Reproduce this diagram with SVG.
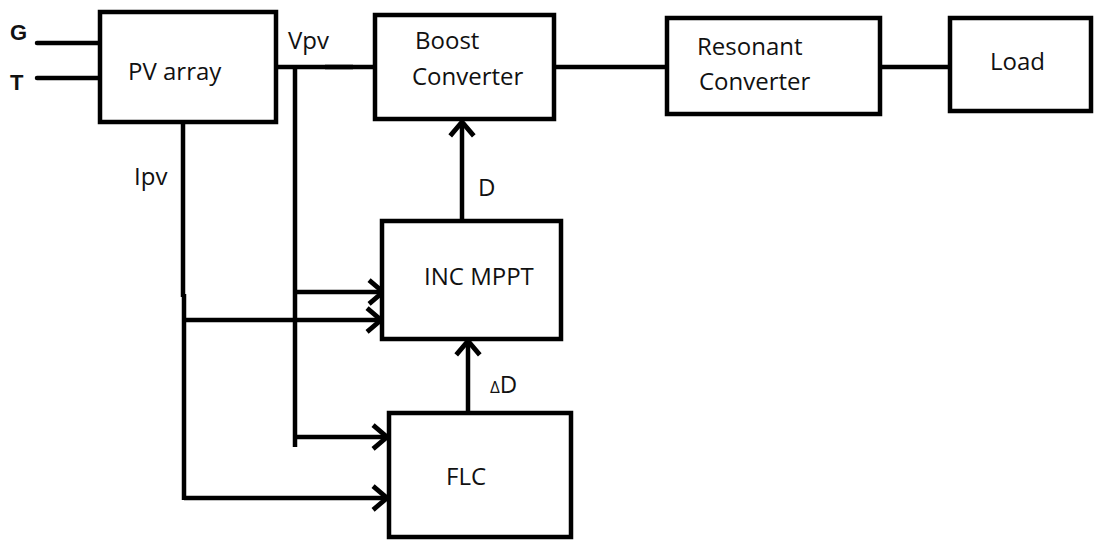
<svg xmlns="http://www.w3.org/2000/svg" width="1119" height="540" viewBox="0 0 1119 540">
<style>
.box{fill:#fff;stroke:#000;stroke-width:4.5}
.w{fill:none;stroke:#000;stroke-width:4.5}
.t{font-family:"Open Sans","Noto Sans",sans-serif;font-size:24px;fill:#111}
.b{font-family:"Liberation Sans",Arial,sans-serif;font-size:22px;font-weight:bold;fill:#111}
</style>
<defs>
<marker id="ah" markerUnits="userSpaceOnUse" markerWidth="30" markerHeight="30" refX="0" refY="0" viewBox="-16 -14 20 28" orient="auto" overflow="visible">
<path d="M-13,-11 L0,0 L-13,11" fill="none" stroke="#000" stroke-width="4.5"/>
</marker>
</defs>
<g id="connectors">
<path class="w" d="M37,43 H98 M37,78 H98" stroke-width="6.5" stroke-linecap="round"/>
<path class="w" d="M277,67 H373"/>
<path class="w" d="M325,67 H353" stroke-width="7"/>
<path class="w" d="M555,67 H665 M881,67 H948" stroke-width="6.5"/>
<path class="w" d="M295,67 V447"/>
<path class="w" d="M183,122 V297 M184,294 V500"/>
<path class="w" d="M295,292 H383" marker-end="url(#ah)"/>
<path class="w" d="M184,320 H381" marker-end="url(#ah)"/>
<path class="w" d="M295,437 H387" marker-end="url(#ah)"/>
<path class="w" d="M184,498 H387" marker-end="url(#ah)"/>
<path class="w" d="M462,220 V122" marker-end="url(#ah)"/>
<path class="w" d="M468,412 V341" marker-end="url(#ah)"/>
</g>
<g id="pv"><rect class="box" x="100" y="12" width="176" height="110"/><text class="t" x="128" y="80">PV array</text></g>
<g id="boost"><rect class="box" x="375" y="15" width="179" height="104"/><text class="t" x="415" y="49">Boost</text><text class="t" x="412" y="85">Converter</text></g>
<g id="resonant"><rect class="box" x="667" y="18" width="213" height="96"/><text class="t" x="697" y="55">Resonant</text><text class="t" x="699" y="90">Converter</text></g>
<g id="load"><rect class="box" x="950" y="18" width="141" height="93"/><text class="t" x="990" y="70">Load</text></g>
<g id="inc"><rect class="box" x="382" y="221" width="179" height="118"/><text class="t" x="424" y="285">INC MPPT</text></g>
<g id="flc"><rect class="box" x="389" y="413" width="182" height="124"/><text class="t" x="446" y="485">FLC</text></g>
<g id="labels">
<text class="b" x="10" y="40">G</text>
<text class="b" x="10" y="90">T</text>
<text class="t" x="288" y="49">Vpv</text>
<text class="t" x="134" y="185">Ipv</text>
<text class="t" x="478" y="196">D</text>
<text class="t" x="490" y="393"><tspan font-size="17">Δ</tspan>D</text>
</g>
</svg>
